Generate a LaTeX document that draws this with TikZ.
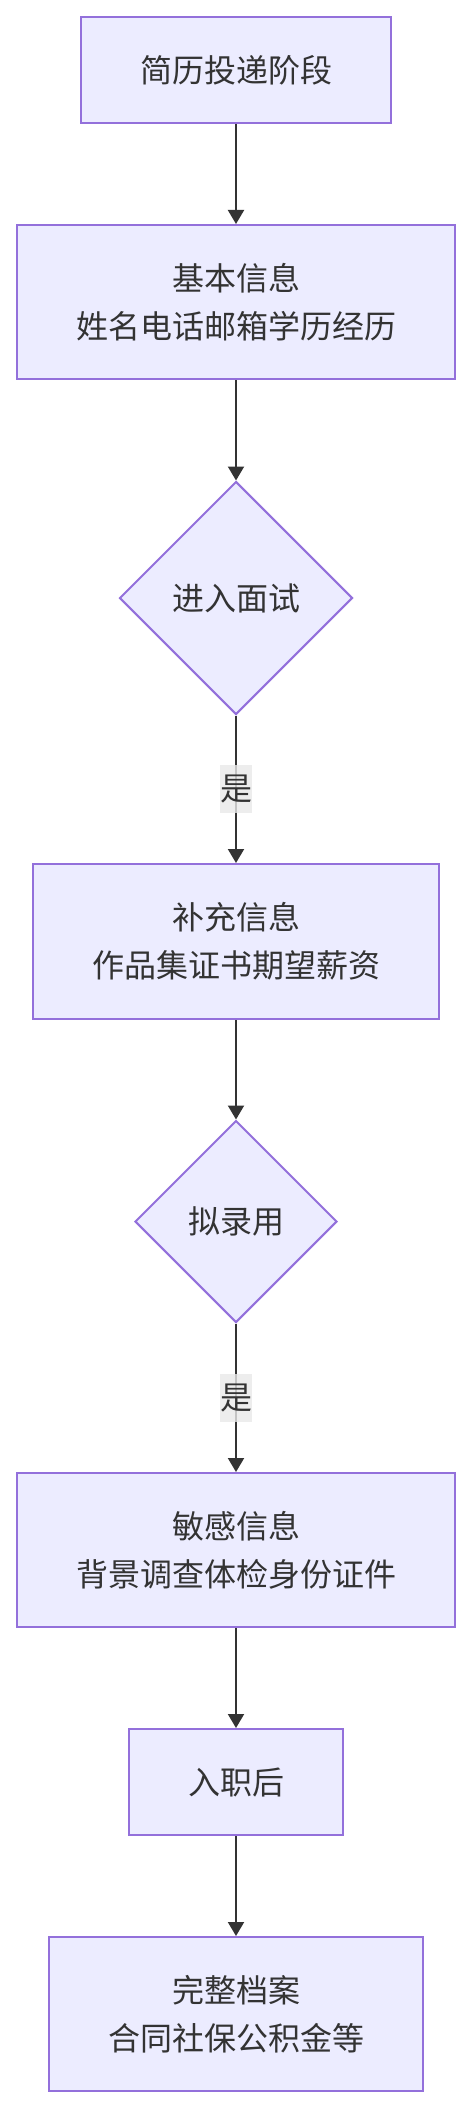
\documentclass[tikz,border=0pt]{standalone}
\usepackage{fontspec}
\newfontfamily\cjk{Noto Sans CJK SC}
\usetikzlibrary{arrows.meta,shapes.geometric}
\definecolor{nodefill}{HTML}{ECECFF}
\definecolor{nodeline}{HTML}{9370DB}
\definecolor{ink}{HTML}{333333}
\definecolor{lblbg}{HTML}{E8E8E8}
\begin{document}
\begin{tikzpicture}[x=1pt,y=-1pt,
  every node/.style={font=\cjk\fontsize{32}{48}\selectfont, text=ink},
  procbox/.style={draw=nodeline, fill=nodefill, line width=2pt, rectangle, inner sep=0pt, align=center},
  decbox/.style={draw=nodeline, fill=nodefill, line width=2pt, diamond, aspect=1, inner sep=0pt, align=center},
  flow/.style={draw=ink, line width=2pt, -{Triangle[length=14pt,width=16pt]}},
  edgelbl/.style={fill=lblbg, fill opacity=0.8, text opacity=1, inner sep=0pt, minimum width=32pt, minimum height=48pt}
]
\useasboundingbox (0,0) rectangle (472,2108);
\node[procbox, minimum width=310pt, minimum height=106pt] (b1) at (236,70) {简历投递阶段};
\node[procbox, minimum width=438pt, minimum height=154pt] (b2) at (236,302) {基本信息\\姓名电话邮箱学历经历};
\node[decbox, minimum width=233pt, minimum height=233pt] (d1) at (236,598) {进入面试};
\node[procbox, minimum width=406pt, minimum height=155pt] (b3) at (236,941.5) {补充信息\\作品集证书期望薪资};
\node[decbox, minimum width=202pt, minimum height=202pt] (d2) at (236,1221.5) {拟录用};
\node[procbox, minimum width=438pt, minimum height=154pt] (b4) at (236,1550) {敏感信息\\背景调查体检身份证件};
\node[procbox, minimum width=214pt, minimum height=106pt] (b5) at (236,1782) {入职后};
\node[procbox, minimum width=374pt, minimum height=154pt] (b6) at (236,2014) {完整档案\\合同社保公积金等};
\draw[flow] (b1.south) -- (b2.north);
\draw[flow] (b2.south) -- (d1.north);
\draw[flow] (d1.south) -- node[edgelbl] (l1) {是} (b3.north);
\draw[flow] (b3.south) -- (d2.north);
\draw[flow] (d2.south) -- node[edgelbl] (l2) {是} (b4.north);
\draw[flow] (b4.south) -- (b5.north);
\draw[flow] (b5.south) -- (b6.north);
\end{tikzpicture}
\end{document}
